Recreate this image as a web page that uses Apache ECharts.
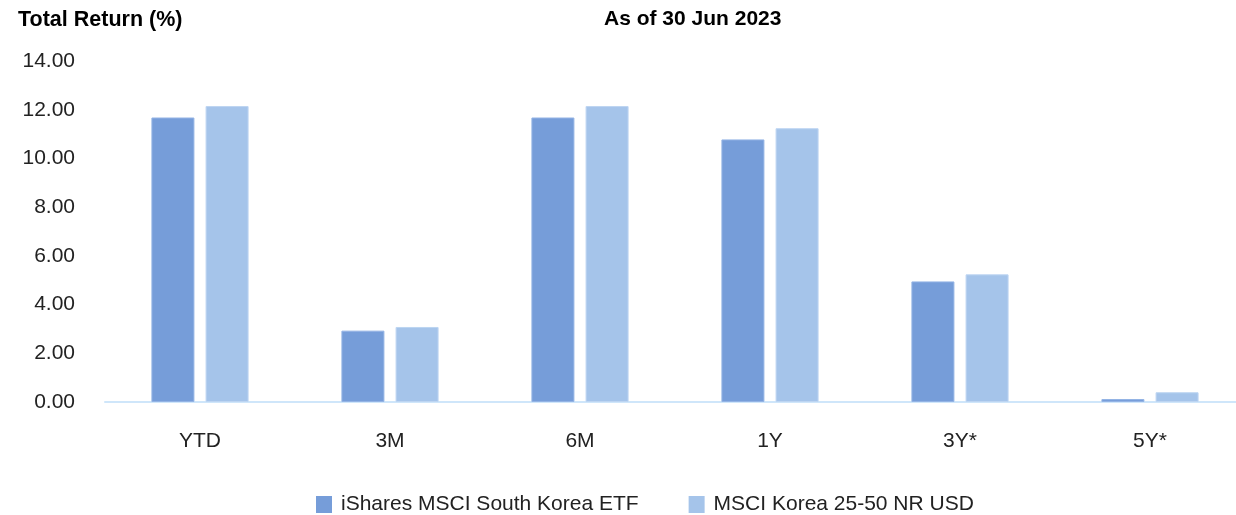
<!DOCTYPE html>
<html>
<head>
<meta charset="utf-8">
<script src="https://cdn.jsdelivr.net/npm/echarts@6/dist/echarts.min.js"></script>
<style>
  html, body { margin: 0; padding: 0; background: #ffffff; overflow: hidden; }
  #chart { width: 1236px; height: 515px; }
</style>
</head>
<body>
<div id="chart"></div>
<script>
// Periods shown on the category axis
const periods = ['YTD', '3M', '6M', '1Y', '3Y*', '5Y*'];

// Total return (%) per period
const fundReturns = [11.68, 2.93, 11.68, 10.78, 4.95, 0.12];
const indexReturns = [12.15, 3.08, 12.15, 11.24, 5.24, 0.40];

const seriesNames = ['iShares MSCI South Korea ETF', 'MSCI Korea 25-50 NR USD'];

// Value axis ticks
const yMin = 0;
const yMax = 14;
const yStep = 2;

const FONT = '"Liberation Sans", Arial, Helvetica, sans-serif';

const chart = echarts.init(document.getElementById('chart'), null, { renderer: 'canvas' });

chart.setOption({
  animation: false,
  textStyle: { fontFamily: FONT },
  title: [
    {
      text: 'Total Return (%)',
      left: 13, top: 4,
      textStyle: { fontFamily: FONT, fontSize: 21.5, fontWeight: 'bold', color: '#000' }
    },
    {
      text: 'As of 30 Jun 2023',
      left: 599, top: 4,
      textStyle: { fontFamily: FONT, fontSize: 21, fontWeight: 'bold', color: '#000' }
    }
  ],
  legend: {
    left: 316,
    top: 494,
    padding: 0,
    itemWidth: 16,
    itemHeight: 17,
    itemGap: 50,
    icon: 'rect',
    itemStyle: { borderWidth: 0 },
    textStyle: { fontFamily: FONT, fontSize: 21, color: '#222', padding: [0, 0, 0, 4] },
    data: seriesNames
  },
  // plot area runs slightly past the right edge of the canvas
  grid: {
    left: 105, width: 1140, top: 61, bottom: 113,
    containLabel: false, outerBoundsMode: 'none'
  },
  xAxis: {
    type: 'category',
    data: periods,
    axisLine: { show: true, lineStyle: { color: '#CFE6FA', width: 2 } },
    axisTick: { show: false },
    axisLabel: { margin: 29, fontSize: 21, color: '#222', fontFamily: FONT }
  },
  yAxis: {
    type: 'value',
    min: yMin,
    max: yMax,
    interval: yStep,
    axisLine: { show: false },
    axisTick: { show: false },
    splitLine: { show: false },
    axisLabel: {
      margin: 30, fontSize: 21, color: '#222', fontFamily: FONT,
      formatter: v => v.toFixed(2)
    }
  },
  series: [
    {
      name: seriesNames[0],
      type: 'bar',
      data: fundReturns,
      barWidth: 43,
      barGap: '26%',
      itemStyle: { color: '#769DD9', borderColor: '#93B3E5', borderWidth: 1 }
    },
    {
      name: seriesNames[1],
      type: 'bar',
      data: indexReturns,
      barWidth: 43,
      barGap: '26%',
      itemStyle: { color: '#A5C4EA', borderColor: '#BDD5F2', borderWidth: 1 }
    }
  ]
});
</script>
</body>
</html>
